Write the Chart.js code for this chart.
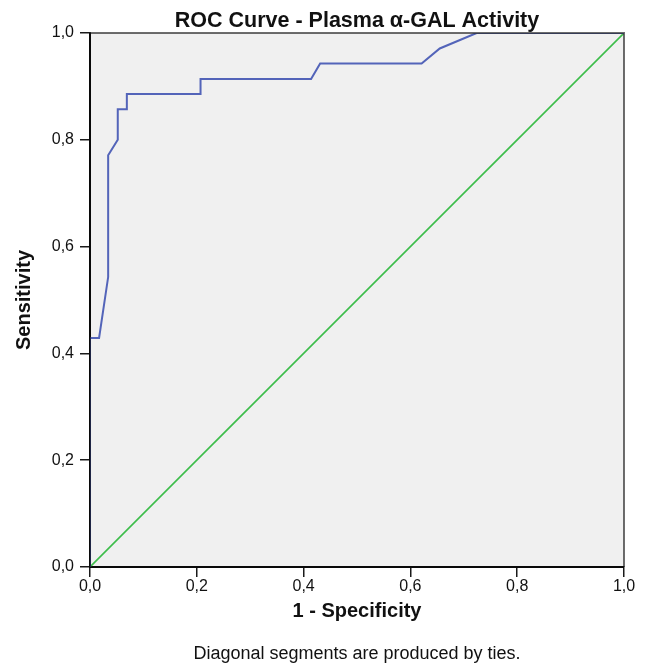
<!DOCTYPE html>
<html>
<head>
<meta charset="utf-8">
<script src="https://cdn.jsdelivr.net/npm/chart.js@4"></script>
<style>
  html, body { margin: 0; padding: 0; background: #ffffff; }
  #wrap { width: 646px; height: 667px; }
</style>
</head>
<body>
<div id="wrap"><canvas id="c" width="646" height="667"></canvas></div>
<script>
// ---- data ----
const chartTitle = "ROC Curve - Plasma α-GAL Activity";
const xAxisTitle = "1 - Specificity";
const yAxisTitle = "Sensitivity";
const footnote = "Diagonal segments are produced by ties.";

const rocFpr = [0, 0, 0.017, 0.034, 0.034, 0.052, 0.052, 0.069, 0.069, 0.207, 0.207, 0.414, 0.431, 0.621, 0.655, 0.724, 1];
const rocTpr = [0, 0.429, 0.429, 0.543, 0.771, 0.800, 0.857, 0.857, 0.886, 0.886, 0.914, 0.914, 0.943, 0.943, 0.971, 1, 1];
const refX = [0, 1];
const refY = [0, 1];
const tickValues = [0, 0.2, 0.4, 0.6, 0.8, 1.0];

const FONT = "'Liberation Sans', Arial, sans-serif";
const fmt = v => Number(v).toFixed(1).replace('.', ',');

const frame = {
  id: 'frame',
  beforeDraw(chart) {
    const {ctx, chartArea: a} = chart;
    ctx.save();
    ctx.fillStyle = '#f0f0f0';
    ctx.fillRect(a.left, a.top, a.right - a.left, a.bottom - a.top);
    ctx.restore();
  },
  afterDatasetsDraw(chart) {
    const {ctx, chartArea: a} = chart;
    ctx.save();
    ctx.lineWidth = 2;
    ctx.strokeStyle = 'rgba(40,40,40,0.68)';
    ctx.beginPath();
    ctx.moveTo(a.left, a.top); ctx.lineTo(a.right, a.top); ctx.lineTo(a.right, a.bottom);
    ctx.stroke();
    ctx.strokeStyle = 'rgba(0,0,0,0.62)';
    ctx.beginPath();
    ctx.moveTo(a.left, a.top); ctx.lineTo(a.left, a.bottom); ctx.lineTo(a.right, a.bottom);
    ctx.stroke();
    ctx.restore();
  },
  afterDraw(chart) {
    const {ctx, chartArea: a} = chart;
    const cx = (a.left + a.right) / 2;
    ctx.save();
    ctx.fillStyle = '#111';
    ctx.textAlign = 'center';
    ctx.textBaseline = 'alphabetic';
    ctx.font = "bold 21.5px " + FONT;
    ctx.fillText(chartTitle, cx, 27);
    ctx.font = "18px " + FONT;
    ctx.fillText(footnote, cx, 659);
    ctx.restore();
  }
};

const pts = (xs, ys) => xs.map((x, i) => ({x: x, y: ys[i]}));

new Chart(document.getElementById('c'), {
  type: 'scatter',
  data: {
    datasets: [
      { data: pts(refX, refY), showLine: true, borderColor: '#3dbd4b', borderWidth: 1.6, pointRadius: 0, order: 2 },
      { data: pts(rocFpr, rocTpr), showLine: true, borderColor: '#5364b9', borderWidth: 2, pointRadius: 0, order: 1 }
    ]
  },
  plugins: [frame],
  options: {
    responsive: false,
    animation: false,
    events: [],
    layout: { padding: { top: 33, right: 22, bottom: 0, left: 0 } },
    plugins: { legend: { display: false }, tooltip: { enabled: false }, title: { display: false } },
    scales: {
      x: {
        type: 'linear', min: 0, max: 1,
        afterBuildTicks: s => { s.ticks = tickValues.map(v => ({value: v})); },
        afterFit: s => { s.height = 100; },
        border: { display: true, color: '#1a1a1a', width: 2 },
        grid: { drawOnChartArea: false, drawTicks: true, tickLength: 10, tickColor: '#1a1a1a', lineWidth: 1.5 },
        ticks: { callback: fmt, color: '#111', font: { family: FONT, size: 16 }, padding: 0, maxRotation: 0 },
        title: { display: true, text: xAxisTitle, color: '#111', font: { family: FONT, size: 20, weight: 'bold' }, padding: { top: 0, bottom: 44 } }
      },
      y: {
        type: 'linear', min: 0, max: 1,
        afterBuildTicks: s => { s.ticks = tickValues.map(v => ({value: v})); },
        afterFit: s => { s.width = 90; },
        border: { display: true, color: '#1a1a1a', width: 2 },
        grid: { drawOnChartArea: false, drawTicks: true, tickLength: 10, tickColor: '#1a1a1a', lineWidth: 1.5 },
        ticks: { callback: fmt, color: '#111', font: { family: FONT, size: 16 }, padding: 6 },
        title: { display: true, text: yAxisTitle, color: '#111', font: { family: FONT, size: 20, weight: 'bold' }, padding: { top: 12, bottom: 0 } }
      }
    }
  }
});
</script>
</body>
</html>
